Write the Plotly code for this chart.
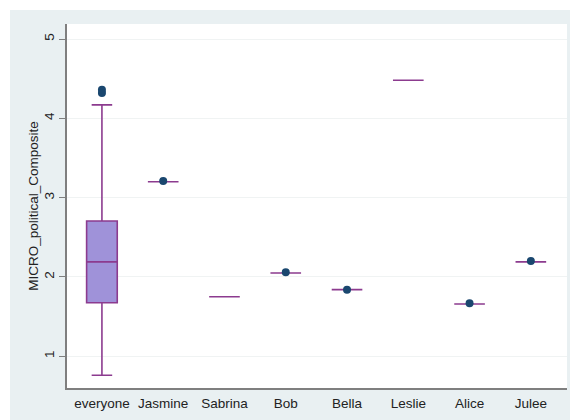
import plotly.graph_objects as go

# Group names along the x axis
groups = ["everyone", "Jasmine", "Sabrina", "Bob", "Bella", "Leslie", "Alice", "Julee"]

# Box summary statistics per group (single-rater groups collapse to a line)
q1 = [1.675, 3.20, 1.75, 2.05, 1.84, 4.48, 1.66, 2.19]
median = [2.19, 3.20, 1.75, 2.05, 1.84, 4.48, 1.66, 2.19]
q3 = [2.705, 3.20, 1.75, 2.05, 1.84, 4.48, 1.66, 2.19]
lower_whisker = [0.76, 3.20, 1.75, 2.05, 1.84, 4.48, 1.66, 2.19]
upper_whisker = [4.17, 3.20, 1.75, 2.05, 1.84, 4.48, 1.66, 2.19]

# Individual points drawn as markers (outside values / observations)
point_groups = ["everyone", "everyone", "Jasmine", "Bob", "Bella", "Alice", "Julee"]
point_values = [4.36, 4.32, 3.21, 2.06, 1.84, 1.67, 2.20]

y_ticks = [1, 2, 3, 4, 5]

BG = "#e9f0f2"
LINE = "#8c3b8f"
FILL = "#9f92d9"
DOT = "#1a476f"
FONT = "Liberation Sans, Arial, sans-serif"

fig = go.Figure()

fig.add_trace(go.Box(
    x=groups,
    q1=q1,
    median=median,
    q3=q3,
    lowerfence=lower_whisker,
    upperfence=upper_whisker,
    width=0.5,
    whiskerwidth=0.67,
    fillcolor=FILL,
    line=dict(color=LINE, width=1.6),
    boxpoints=False,
    hoverinfo="skip",
    showlegend=False,
))

fig.add_trace(go.Scatter(
    x=point_groups,
    y=point_values,
    mode="markers",
    marker=dict(color=DOT, size=8),
    hoverinfo="skip",
    showlegend=False,
))

# White page border around the shaded graph region
for x0, x1, y0, y1 in [(-0.2, 1.2, 1.0385, 1.2), (-0.2, -0.114, -0.2, 1.2), (1.006, 1.2, -0.2, 1.2)]:
    fig.add_shape(type="rect", xref="paper", yref="paper", x0=x0, x1=x1, y0=y0, y1=y1,
                  fillcolor="white", line=dict(width=0), layer="above")

fig.update_layout(
    width=571,
    height=420,
    margin=dict(l=67, r=4, t=24, b=32),
    paper_bgcolor=BG,
    plot_bgcolor="white",
    font=dict(family=FONT, size=13, color="#222222"),
    boxmode="overlay",
)

fig.update_xaxes(
    type="category",
    categoryorder="array",
    categoryarray=groups,
    range=[-0.57, 7.59],
    showgrid=False,
    showline=True,
    linecolor="#7f7f7f",
    linewidth=1.5,
    ticks="",
    tickfont=dict(size=13.5),
    ticklabelstandoff=2,
)

fig.update_yaxes(
    range=[0.60, 5.19],
    tickvals=y_ticks,
    ticktext=[str(v) for v in y_ticks],
    tickangle=-90,
    ticks="outside",
    ticklen=6,
    tickcolor="#7f7f7f",
    showline=True,
    linecolor="#7f7f7f",
    linewidth=1.5,
    showgrid=True,
    gridcolor="#f0f3f3",
    gridwidth=1,
    zeroline=False,
    tickfont=dict(size=13.5),
    ticklabelstandoff=0,
    title=dict(text="MICRO_political_Composite", font=dict(size=13.5), standoff=0),
)

fig.write_html("out.html")
